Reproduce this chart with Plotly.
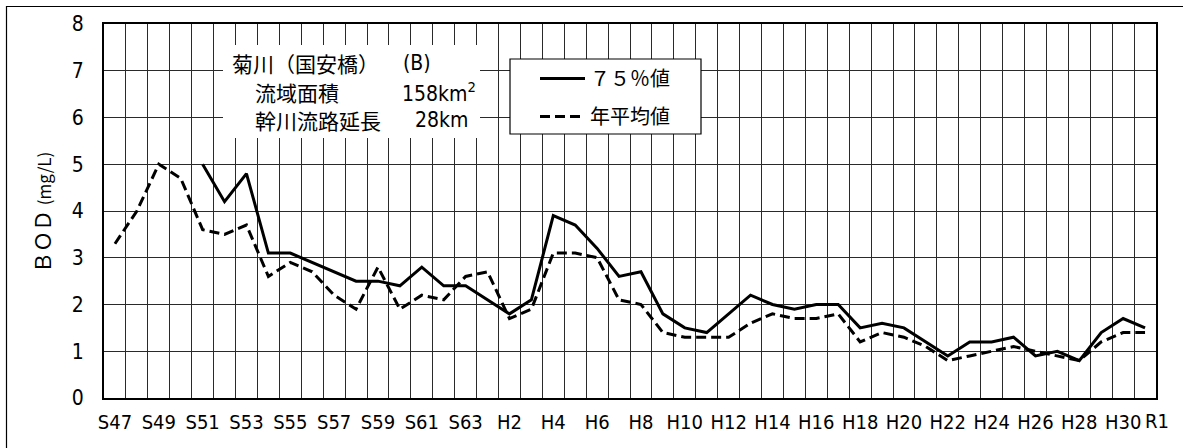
import plotly.graph_objects as go

# --- data ---
years = [f"S{n}" for n in range(47, 64)] + [f"H{n}" for n in range(1, 31)] + ["R1"]

# 75% value (no data before S51)
bod_75 = [None, None, None, None,
          5.0, 4.2, 4.8, 3.1, 3.1, 2.9, 2.7, 2.5, 2.5, 2.4, 2.8, 2.4, 2.4,
          2.1, 1.8, 2.1, 3.9, 3.7, 3.2, 2.6, 2.7, 1.8, 1.5, 1.4, 1.8, 2.2,
          2.0, 1.9, 2.0, 2.0, 1.5, 1.6, 1.5, 1.2, 0.9, 1.2, 1.2, 1.3, 0.9,
          1.0, 0.8, 1.4, 1.7, 1.5]

# annual mean
bod_mean = [3.3, 4.0, 5.0, 4.7, 3.6, 3.5, 3.7, 2.6, 2.9, 2.7, 2.2, 1.9, 2.8,
            1.9, 2.2, 2.1, 2.6, 2.7, 1.7, 1.9, 3.1, 3.1, 3.0, 2.1, 2.0, 1.4,
            1.3, 1.3, 1.3, 1.6, 1.8, 1.7, 1.7, 1.8, 1.2, 1.4, 1.3, 1.1, 0.8,
            0.9, 1.0, 1.1, 1.0, 0.9, 0.8, 1.2, 1.4, 1.4]

# every other year labelled; R1 gets its own label (squeezed in next to H30)
tick_text = [y if (i % 2 == 0 and y != "R1") else "" for i, y in enumerate(years)]

# --- layout helpers (pixel -> paper) ---
W, H = 1183, 448
L, R, T, B = 104, 27, 24, 50
PW, PH = W - L - R, H - T - B


def fx(px):
    return (px - L) / PW


def fy(py):
    return (H - B - py) / PH


JP = "Noto Sans CJK JP"
NARROW = "DejaVu Sans Condensed, Liberation Sans Narrow, Arial Narrow, Liberation Sans, sans-serif"

fig = go.Figure()

fig.add_trace(go.Scatter(
    x=years, y=bod_75, mode="lines", name="７５％値",
    line=dict(color="black", width=3),
    legendgroup="a", connectgaps=False
))
fig.add_trace(go.Scatter(
    x=years, y=bod_mean, mode="lines", name="年平均値",
    line=dict(color="black", width=3, dash="10px,5px"),
    legendgroup="b"
))

# white box behind the station info (cuts the grid)
fig.add_shape(type="rect", xref="paper", yref="paper",
              x0=fx(223), x1=fx(480), y0=fy(138), y1=fy(45),
              fillcolor="white", line=dict(width=0), layer="above")
# legend frame
fig.add_shape(type="rect", xref="paper", yref="paper",
              x0=fx(510), x1=fx(701), y0=fy(134), y1=fy(59),
              fillcolor="white", line=dict(color="black", width=1.2), layer="above")
# outer chart frame (top and left edges visible)
fig.add_shape(type="rect", xref="paper", yref="paper",
              x0=fx(6.5), x1=fx(1195), y0=fy(460), y1=fy(6.5),
              fillcolor="rgba(0,0,0,0)", line=dict(color="black", width=1.2))

info = [
    ("菊川（国安橋）", 230, 63, "left", JP),
    ("(B)", 401, 63, "left", NARROW),
    ("流域面積", 253, 92, "left", JP),
    ("158km<sup>2</sup>", 478, 92, "right", NARROW),
    ("幹川流路延長", 253, 120, "left", JP),
    ("28km", 470, 120, "right", NARROW),
]
for txt, px, py, anchor, fam in info:
    fig.add_annotation(text=txt, xref="paper", yref="paper", x=fx(px), y=fy(py),
                       xanchor=anchor, yanchor="middle", showarrow=False,
                       font=dict(family=fam, size=21, color="black"))

# last year label, nudged right so it clears H30
fig.add_annotation(text=years[-1], xref="x", yref="paper", x=years[-1], y=fy(421),
                   xanchor="center", yanchor="middle", xshift=12, showarrow=False,
                   font=dict(family=NARROW, size=20, color="black"))

# y title
fig.add_annotation(text="ＢＯＤ <span style='font-size:17px'>(mg/L)</span>",
                   xref="paper", yref="paper", x=fx(42), y=fy(213),
                   xanchor="center", yanchor="middle", textangle=-90, showarrow=False,
                   font=dict(family=JP, size=21, color="black"))

fig.update_layout(
    width=W, height=H,
    margin=dict(l=L, r=R, t=T, b=B),
    plot_bgcolor="white", paper_bgcolor="white",
    font=dict(family=NARROW, color="black"),
    showlegend=True,
    legend=dict(
        x=fx(535), y=fy(59), xanchor="left", yanchor="top",
        bgcolor="rgba(0,0,0,0)", borderwidth=0,
        font=dict(family=JP, size=20, color="black"),
        tracegroupgap=9, itemwidth=45
    ),
)

fig.update_xaxes(
    type="category", tickmode="array", tickvals=years, ticktext=tick_text,
    tickson="boundaries", ticks="", range=[-0.5, len(years) - 0.5],
    showgrid=True, gridcolor="#2a2a2a", gridwidth=1.4,
    showline=True, linecolor="black", linewidth=2, mirror=True,
    tickfont=dict(family=NARROW, size=20, color="black"),
    tickangle=0, automargin=False, ticklabelstandoff=5
)
fig.update_yaxes(
    range=[0, 8], dtick=1, tick0=0,
    showgrid=True, gridcolor="#2a2a2a", gridwidth=1.4,
    showline=True, linecolor="black", linewidth=2, mirror=True,
    zeroline=False, ticks="", automargin=False,
    tickfont=dict(family=NARROW, size=21, color="black"),
    ticklabelstandoff=14
)

# the page's default body margin would shift the figure by 8px
fig.write_html("out.html", config={"displayModeBar": False},
               post_script="document.body.style.margin='0';")
